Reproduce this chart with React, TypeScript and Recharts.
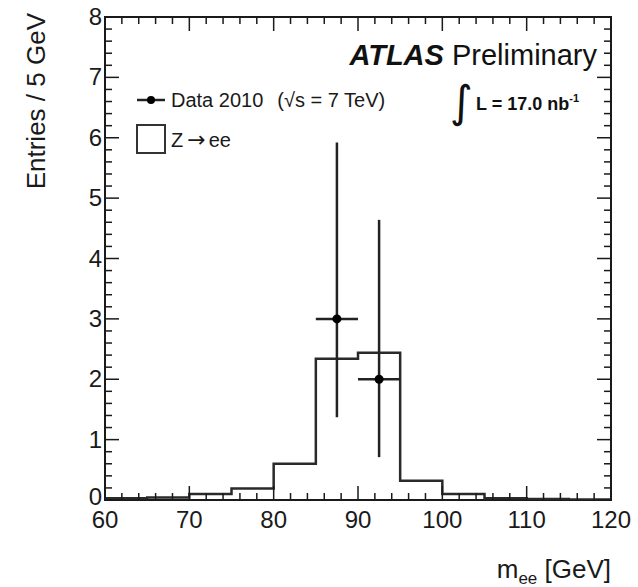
import React from "react";
import {
  ComposedChart,
  Line,
  Scatter,
  ErrorBar,
  XAxis,
  YAxis,
  ReferenceArea,
} from "recharts";

// Z->ee MC histogram, 5 GeV bins
const binEdges = [60, 65, 70, 75, 80, 85, 90, 95, 100, 105, 110, 115, 120];
const zeeCounts = [0.03, 0.04, 0.1, 0.19, 0.6, 2.34, 2.44, 0.32, 0.1, 0.03, 0.015, 0.01];

// data 2010 candidates
const dataMass = [87.5, 92.5];
const dataEntries = [3, 2];
const dataErrLow = [1.63, 1.29];
const dataErrHigh = [2.92, 2.64];
const dataHalfBin = [2.5, 2.5];

const xMajorTicks = [60, 70, 80, 90, 100, 110, 120];
const yMajorTicks = [0, 1, 2, 3, 4, 5, 6, 7, 8];
const xMinorStep = 2;
const yMinorStep = 0.2;

const W = 638;
const H = 587;
const M = { top: 17, right: 27, left: 0, bottom: 0 };
const Y_AXIS_W = 105;
const X_AXIS_H = 87;
const PLOT_TOP = M.top;
const PLOT_RIGHT = W - M.right;

const FONT = "'Liberation Sans', Arial, Helvetica, sans-serif";
const INK = "#1a1a1a";

const xTicks: number[] = [];
for (let v = xMajorTicks[0]; v <= xMajorTicks[xMajorTicks.length - 1] + 1e-9; v += xMinorStep) {
  xTicks.push(Math.round(v * 10) / 10);
}
const yTicks: number[] = [];
for (let v = yMajorTicks[0]; v <= yMajorTicks[yMajorTicks.length - 1] + 1e-9; v += yMinorStep) {
  yTicks.push(Math.round(v * 10) / 10);
}

const histData = binEdges.map((x, i) => ({
  x,
  mc: zeeCounts[Math.min(i, zeeCounts.length - 1)],
}));

const pointData = dataMass.map((x, i) => ({
  x,
  y: dataEntries[i],
  ey: [dataErrLow[i], dataErrHigh[i]],
  ex: dataHalfBin[i],
}));

const XTick = (props: any) => {
  const { x, y, payload } = props;
  const major = xMajorTicks.includes(payload.value);
  const len = major ? 14 : 7;
  return (
    <g>
      <line x1={x} y1={y} x2={x} y2={y - len} stroke={INK} strokeWidth={1.5} />
      <line x1={x} y1={PLOT_TOP} x2={x} y2={PLOT_TOP + len} stroke={INK} strokeWidth={1.5} />
      {major && (
        <text
          x={x}
          y={y + 28}
          textAnchor="middle"
          fontSize={24}
          fontFamily={FONT}
          fill={INK}
        >
          {payload.value}
        </text>
      )}
    </g>
  );
};

const YTick = (props: any) => {
  const { x, y, payload } = props;
  const major = yMajorTicks.includes(payload.value);
  const len = major ? 14 : 7;
  // the "0" sits a bit higher in the reference, just above the "60"
  const lift = payload.value === 0 ? -3 : 0;
  return (
    <g>
      <line x1={x} y1={y} x2={x + len} y2={y} stroke={INK} strokeWidth={1.5} />
      <line x1={PLOT_RIGHT} y1={y} x2={PLOT_RIGHT - len} y2={y} stroke={INK} strokeWidth={1.5} />
      {major && (
        <text
          x={x - 3}
          y={y + 8 + lift}
          textAnchor="end"
          fontSize={24}
          fontFamily={FONT}
          fill={INK}
        >
          {payload.value}
        </text>
      )}
    </g>
  );
};

export default function App() {
  return (
    <div style={{ position: "absolute", left: 0, top: 0, width: W, height: H, background: "#fff" }}>
      <ComposedChart width={W} height={H} margin={M}>
        <XAxis
          type="number"
          dataKey="x"
          domain={[60, 120]}
          ticks={xTicks}
          interval={0}
          allowDataOverflow
          axisLine={false}
          tickLine={false}
          tickSize={0}
          tickMargin={0}
          height={X_AXIS_H}
          tick={<XTick />}
        />
        <YAxis
          type="number"
          domain={[0, 8]}
          ticks={yTicks}
          interval={0}
          allowDataOverflow
          axisLine={false}
          tickLine={false}
          tickSize={0}
          tickMargin={0}
          width={Y_AXIS_W}
          tick={<YTick />}
        />
        <ReferenceArea
          x1={60}
          x2={120}
          y1={0}
          y2={8}
          fill="none"
          fillOpacity={0}
          stroke={INK}
          strokeWidth={2}
        />
        <Line
          data={histData}
          dataKey="mc"
          type="stepAfter"
          stroke="#2a2a2a"
          strokeWidth={2.5}
          dot={false}
          activeDot={false}
          isAnimationActive={false}
        />
        <Scatter
          data={pointData}
          dataKey="y"
          fill="#000"
          isAnimationActive={false}
          shape={(p: any) => <circle cx={p.cx} cy={p.cy} r={4.5} fill="#000" />}
        >
          <ErrorBar dataKey="ey" direction="y" width={0} stroke="#222" strokeWidth={2.5} />
          <ErrorBar dataKey="ex" direction="x" width={0} stroke="#222" strokeWidth={2.5} />
        </Scatter>
      </ComposedChart>

      <svg
        width={W}
        height={H}
        style={{ position: "absolute", left: 0, top: 0, pointerEvents: "none" }}
        fontFamily={FONT}
      >
        {/* axis titles */}
        <text
          transform="translate(45, 13) rotate(-90)"
          textAnchor="end"
          fontSize={26}
          fill={INK}
        >
          Entries / 5 GeV
        </text>
        <text x={611} y={578} textAnchor="end" fontSize={26} fill={INK}>
          m
          <tspan fontSize={17} dy={6}>ee</tspan>
          <tspan dy={-6}> [GeV]</tspan>
        </text>

        {/* ATLAS label */}
        <text x={597} y={65} textAnchor="end" fontSize={29} fill="#111">
          <tspan fontWeight="bold" fontStyle="italic">ATLAS</tspan>
          <tspan> Preliminary</tspan>
        </text>
        <text x={450} y={117} fontSize={44} fill="#111" fontFamily="'DejaVu Sans', sans-serif">
          ∫
        </text>
        <text x={476} y={110} fontSize={18} fontWeight="bold" fill="#111">
          L = 17.0 nb
          <tspan fontSize={11} dy={-8}>-1</tspan>
        </text>

        {/* legend */}
        <line x1={137} y1={100} x2={165} y2={100} stroke="#222" strokeWidth={2.5} />
        <circle cx={151} cy={100} r={4} fill="#000" />
        <text x={171} y={107} fontSize={20} fill={INK}>
          Data 2010
          <tspan dx={14}>(√s = 7 TeV)</tspan>
        </text>
        <rect x={137} y={125} width={28} height={28} fill="none" stroke="#333" strokeWidth={2} />
        <text x={171} y={147} fontSize={20} fill={INK}>
          Z
          <tspan fontSize={22} fontFamily="'DejaVu Sans', sans-serif" dx={4}>→</tspan>
          <tspan dx={3}>ee</tspan>
        </text>
      </svg>
    </div>
  );
}
